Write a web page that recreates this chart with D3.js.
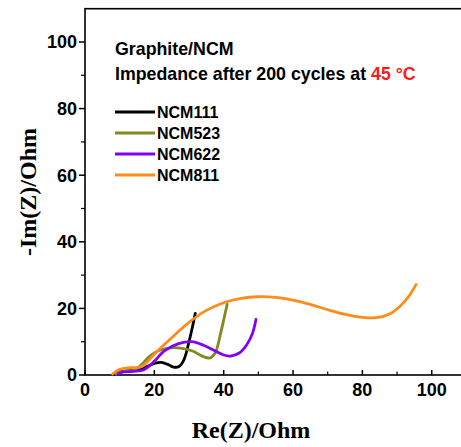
<!DOCTYPE html>
<html lang="en">
<head>
<meta charset="UTF-8">
<title>Impedance</title>
<script src="https://cdnjs.cloudflare.com/ajax/libs/d3/7.8.5/d3.min.js"></script>
<style>
  body { margin: 0; background: #fff; }
  text { font-family: Arial, "Liberation Sans", sans-serif; font-weight: bold; }
  .serif { font-family: "Times New Roman", "Liberation Serif", serif; }
</style>
</head>
<body>
<svg id="chart" width="461" height="447"></svg>
<script>
  // Nyquist data: [Re(Z), -Im(Z)]
  const names = ['NCM111', 'NCM523', 'NCM622', 'NCM811'];
  const colors = ['#000000', '#808a1e', '#8000ff', '#ff8c1a'];

  const ncm111 = [[8.5,0.2],[10,0.9],[13,1.3],[16,1.6],[18,2.6],[20,3.5],[22,3.8],[24,3.1],[25.5,2.4],[27,2.5],[28.5,4.5],[30,10],[31,14.5],[31.8,18.5]];
  const ncm523 = [[9,0.3],[11,1],[14,1.4],[16,2.8],[18.5,5.5],[21,7.2],[24,8.1],[27.5,8.1],[31,7.2],[34,5.6],[36,5.1],[37.5,6.5],[39,12],[40.2,17.5],[41,21.2]];
  const ncm622 = [[9.5,0.3],[11,0.9],[14,1.1],[17,1.6],[19.5,3.6],[23,7.3],[27,9.4],[30.8,10],[34,9],[37,7.5],[40,6],[42,5.7],[44.5,6.6],[46.6,9],[48.3,12.5],[49.3,16.7]];
  const ncm811 = [[8,0.3],[10,1.7],[13,2.2],[16,2.4],[18,4],[20.5,6.8],[25,11.2],[30,15.8],[35,19.4],[40,21.7],[45,23],[50,23.5],[55,23.3],[60,22.5],[65,21.2],[70,19.6],[75,18.2],[80,17.3],[84,17.2],[88,18.4],[91,20.8],[93.5,23.8],[95.5,27.2]];
  const series = [ncm111, ncm523, ncm622, ncm811];

  const xTicks = [0, 20, 40, 60, 80, 100];
  const yTicks = [0, 20, 40, 60, 80, 100];
  const minorTicks = [10, 30, 50, 70, 90];

  const svg = d3.select('#chart');

  const x = d3.scaleLinear().domain([0, 110]).range([85, 466.4]);
  const y = d3.scaleLinear().domain([0, 110]).range([375, 8.7]);

  // frame (right side falls outside the picture)
  svg.append('rect')
    .attr('x', x(0)).attr('y', y(110))
    .attr('width', x(110) - x(0)).attr('height', y(0) - y(110))
    .attr('fill', 'none').attr('stroke', '#000').attr('stroke-width', 1.6);

  // y axis: ticks outward
  const gy = svg.append('g').attr('transform', `translate(${x(0)},0)`);
  gy.selectAll('line.major').data(yTicks).enter().append('line')
    .attr('x1', -6).attr('x2', 0)
    .attr('y1', d => y(d)).attr('y2', d => y(d))
    .attr('stroke', '#000').attr('stroke-width', 1.5);
  gy.selectAll('line.minor').data(minorTicks).enter().append('line')
    .attr('x1', -4).attr('x2', 0)
    .attr('y1', d => y(d)).attr('y2', d => y(d))
    .attr('stroke', '#000').attr('stroke-width', 1.2);
  gy.selectAll('text').data(yTicks).enter().append('text')
    .attr('x', -8).attr('y', d => y(d))
    .attr('dy', '0.36em').attr('text-anchor', 'end')
    .attr('font-size', 18).text(d => d);

  // x axis: ticks inward
  const gx = svg.append('g').attr('transform', `translate(0,${y(0)})`);
  gx.selectAll('line.major').data(xTicks).enter().append('line')
    .attr('x1', d => x(d)).attr('x2', d => x(d))
    .attr('y1', 0).attr('y2', -5)
    .attr('stroke', '#000').attr('stroke-width', 1.5);
  gx.selectAll('line.minor').data(minorTicks).enter().append('line')
    .attr('x1', d => x(d)).attr('x2', d => x(d))
    .attr('y1', 0).attr('y2', -3.5)
    .attr('stroke', '#000').attr('stroke-width', 1.2);
  gx.selectAll('text').data(xTicks).enter().append('text')
    .attr('x', d => x(d)).attr('y', 21)
    .attr('text-anchor', 'middle')
    .attr('font-size', 18).text(d => d);

  // curves
  const line = d3.line()
    .x(d => x(d[0])).y(d => y(d[1]))
    .curve(d3.curveCatmullRom.alpha(0.5));

  svg.append('g').selectAll('path').data(series).enter().append('path')
    .attr('d', line)
    .attr('fill', 'none')
    .attr('stroke', (d, i) => colors[i])
    .attr('stroke-width', 2.8)
    .attr('stroke-linejoin', 'round')
    .attr('stroke-linecap', 'round');

  // annotation text
  svg.append('text').attr('x', 115).attr('y', 55)
    .attr('font-size', 17.8).text('Graphite/NCM');
  const t2 = svg.append('text').attr('x', 115).attr('y', 80).attr('font-size', 17.8);
  t2.append('tspan').text('Impedance after 200 cycles at ');
  t2.append('tspan').attr('fill', '#ff1a1a').text('45 \u00B0C');

  // legend
  const leg = svg.append('g').selectAll('g').data(names).enter().append('g')
    .attr('transform', (d, i) => `translate(0,${112 + i * 21})`);
  leg.append('line')
    .attr('x1', 115).attr('x2', 155).attr('y1', 0).attr('y2', 0)
    .attr('stroke', (d, i) => colors[i]).attr('stroke-width', 2.8);
  leg.append('text')
    .attr('x', 157).attr('y', 0).attr('dy', '0.36em')
    .attr('font-size', 16).text(d => d);

  // axis titles
  svg.append('text').attr('class', 'serif')
    .attr('x', 251).attr('y', 438)
    .attr('text-anchor', 'middle').attr('font-size', 24)
    .text('Re(Z)/Ohm');
  svg.append('text').attr('class', 'serif')
    .attr('transform', 'translate(36,192) rotate(-90)')
    .attr('text-anchor', 'middle').attr('font-size', 24)
    .text('-Im(Z)/Ohm');
</script>
</body>
</html>
